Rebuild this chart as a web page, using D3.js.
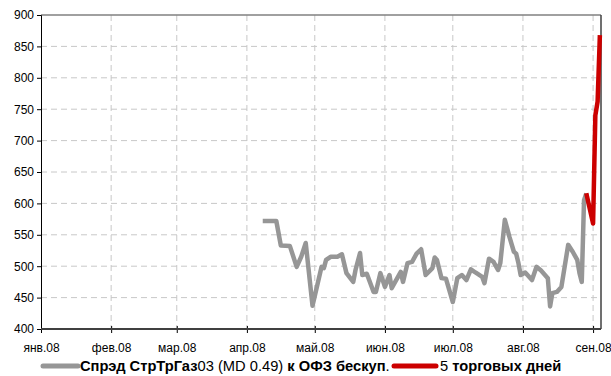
<!DOCTYPE html>
<html><head><meta charset="utf-8">
<script src="https://cdnjs.cloudflare.com/ajax/libs/d3/7.8.5/d3.min.js"></script>
<style>
body{margin:0;background:#fff;}
svg{display:block;font-family:"Liberation Sans Narrow","Arial Narrow","Liberation Sans",Arial,sans-serif;}
</style></head>
<body><svg id="c" width="611" height="376"></svg>
<script>
// ---- data ----
const monthTicks = ["2008-01-01","2008-02-01","2008-03-01","2008-04-01","2008-05-01","2008-06-01","2008-07-01","2008-08-01","2008-09-01"];
const monthLabels = ["янв.08","фев.08","мар.08","апр.08","май.08","июн.08","июл.08","авг.08","сен.08"];
const yTicks = [400,450,500,550,600,650,700,750,800,850,900];
const spreadDates = ["2008-04-08","2008-04-14","2008-04-16","2008-04-20","2008-04-23","2008-04-25","2008-04-27","2008-04-30",
"2008-05-04","2008-05-05","2008-05-06","2008-05-08","2008-05-11","2008-05-13","2008-05-15","2008-05-18","2008-05-19","2008-05-21","2008-05-22","2008-05-24","2008-05-27","2008-05-28","2008-05-30",
"2008-06-01","2008-06-03","2008-06-04","2008-06-08","2008-06-09","2008-06-11","2008-06-13","2008-06-15","2008-06-17","2008-06-19","2008-06-22","2008-06-23","2008-06-24","2008-06-26","2008-06-28",
"2008-07-01","2008-07-03","2008-07-05","2008-07-07","2008-07-09","2008-07-11","2008-07-14","2008-07-15","2008-07-17","2008-07-19","2008-07-21","2008-07-22","2008-07-24","2008-07-26","2008-07-28","2008-07-29","2008-07-30","2008-07-31",
"2008-08-02","2008-08-05","2008-08-07","2008-08-09","2008-08-12","2008-08-13","2008-08-14","2008-08-16","2008-08-18","2008-08-21","2008-08-23","2008-08-25","2008-08-26","2008-08-27","2008-08-28","2008-08-29"];
const spreadValues = [572,572,533,532,499,515,537,437,
499,497,510,515,515,519,489,475,494,521,486,488,459,459,489,
467,486,465,491,475,505,507,520,527,486,497,514,510,481,480,
443,481,486,478,495,490,483,473,512,507,494,505,574,547,523,520,505,486,
490,478,499,493,481,436,457,459,467,534,523,510,489,475,605,616];
const lastDates = ["2008-08-29","2008-09-01","2008-09-02","2008-09-03","2008-09-04"];
const lastValues = [616,568,740,762,868];
const legend1 = [["Спрэд СтрТрГаз",true],["03 (MD 0.49) ",false],["к ОФЗ бескуп",true],[".",false]];
const legend2 = [["5",false],[" торговых дней",true]];

// ---- drawing ----
const parse = d3.timeParse("%Y-%m-%d");
const svg = d3.select("#c");
const L=41, R=601, T=15, B=329;
const x = d3.scaleTime().domain([parse("2008-01-01"), new Date(2008,8,4,12)]).range([L,R]);
const y = d3.scaleLinear().domain([400,900]).range([B,T]);

// gridlines
svg.append("g").selectAll("line").data(yTicks.filter(v=>v>400&&v<900)).join("line")
  .attr("x1",L).attr("x2",R).attr("y1",d=>y(d)).attr("y2",d=>y(d))
  .attr("stroke","#c8c8c8").attr("stroke-width",1).attr("stroke-dasharray","6,4");
svg.append("g").selectAll("line").data(monthTicks.slice(1)).join("line")
  .attr("x1",d=>x(parse(d))).attr("x2",d=>x(parse(d))).attr("y1",T).attr("y2",B)
  .attr("stroke","#c8c8c8").attr("stroke-width",1).attr("stroke-dasharray","6,4");

// frame top/right
svg.append("line").attr("x1",L).attr("x2",R).attr("y1",T).attr("y2",T).attr("stroke","#808080").attr("stroke-width",1.5);
svg.append("line").attr("x1",R).attr("x2",R).attr("y1",T).attr("y2",B).attr("stroke","#404040").attr("stroke-width",1.5);

// y axis
const yAxis = d3.axisLeft(y).tickValues(yTicks).tickSize(4).tickPadding(3).tickFormat(d3.format("d"));
const gy = svg.append("g").attr("transform",`translate(${L},0)`).call(yAxis);
gy.select(".domain").attr("stroke","#000").attr("stroke-width",1);
gy.selectAll(".tick line").attr("stroke","#000");
gy.selectAll("text").attr("font-size",12).attr("fill","#000").attr("font-family","inherit");

// x axis
const xAxis = d3.axisBottom(x).tickValues(monthTicks.map(parse)).tickSize(4).tickPadding(10)
  .tickFormat((d,i)=>monthLabels[i]);
const gx = svg.append("g").attr("transform",`translate(0,${B})`).call(xAxis);
gx.select(".domain").remove();
gx.selectAll(".tick line").attr("stroke","#000").attr("y1",-3);
gx.selectAll("text").attr("font-size",12).attr("fill","#000").attr("font-family","inherit");
svg.append("line").attr("x1",L).attr("x2",R).attr("y1",B).attr("y2",B).attr("stroke","#404040").attr("stroke-width",2);

// series
const line = d3.line().x(d=>x(d.d)).y(d=>y(d.v));
const s1 = spreadDates.map((d,i)=>({d:parse(d),v:spreadValues[i]}));
const s2 = lastDates.map((d,i)=>({d:parse(d),v:lastValues[i]}));
svg.append("path").datum(s1).attr("d",line).attr("fill","none").attr("stroke","#969696").attr("stroke-width",4.5).attr("stroke-linejoin","round");
svg.append("path").datum(s2).attr("d",line).attr("fill","none").attr("stroke","#cc0000").attr("stroke-width",4.5).attr("stroke-linejoin","round");

// legend
const ly = 366;
svg.append("line").attr("x1",43).attr("x2",78).attr("y1",ly).attr("y2",ly).attr("stroke","#969696").attr("stroke-width",5).attr("stroke-linecap","round");
const t1 = svg.append("text").attr("x",80).attr("y",ly+5).attr("font-size",14.7).attr("fill","#000");
legend1.forEach(([s,b])=>t1.append("tspan").text(s).attr("font-weight",b?"bold":"normal"));
svg.append("line").attr("x1",394).attr("x2",436).attr("y1",ly).attr("y2",ly).attr("stroke","#cc0000").attr("stroke-width",5).attr("stroke-linecap","round");
const t2 = svg.append("text").attr("x",440).attr("y",ly+5).attr("font-size",14.7).attr("fill","#000");
legend2.forEach(([s,b])=>t2.append("tspan").text(s).attr("font-weight",b?"bold":"normal"));
</script></body></html>
